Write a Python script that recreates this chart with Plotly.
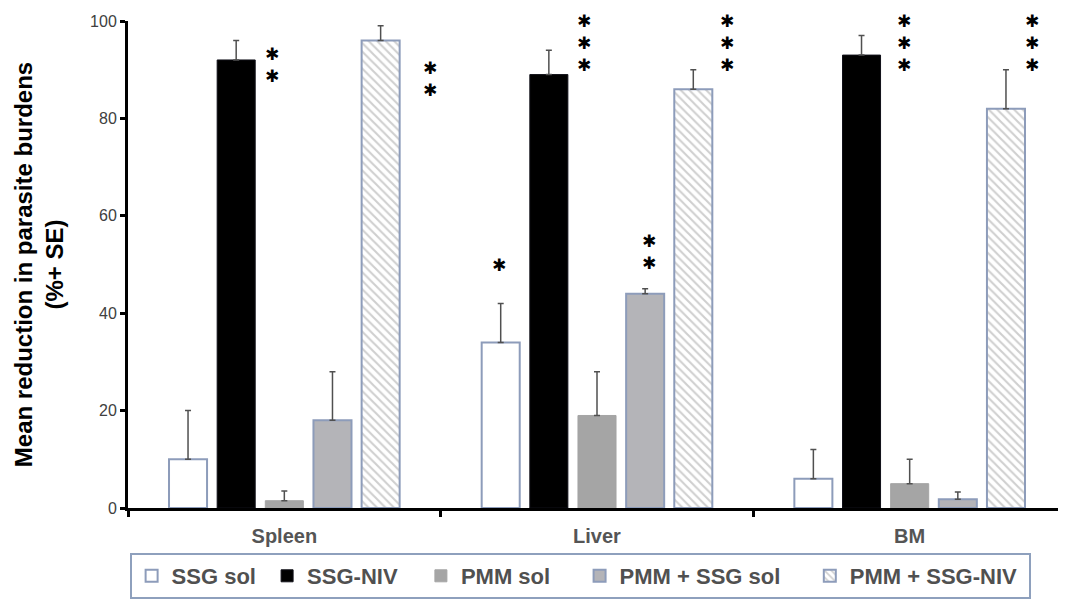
import plotly.graph_objects as go

categories = ["Spleen", "Liver", "BM"]
series_names = ["SSG sol", "SSG-NIV", "PMM sol", "PMM + SSG sol", "PMM + SSG-NIV"]
ssg_sol = [10, 34, 6]
ssg_sol_se = [10, 8, 6]
ssg_niv = [92, 89, 93]
ssg_niv_se = [4, 5, 4]
pmm_sol = [1.5, 19, 5]
pmm_sol_se = [2, 9, 5]
pmm_ssg_sol = [18, 44, 1.8]
pmm_ssg_sol_se = [10, 1, 1.5]
pmm_ssg_niv = [96, 86, 82]
pmm_ssg_niv_se = [3, 4, 8]

# significance marks: (category, number of stars, y-center of the mark, x offset px)
sig_marks = [
    ("Spleen", 2, 91, -12),
    ("Spleen", 2, 88, 146),
    ("Liver", 1, 50, -98),
    ("Liver", 3, 95.4, -13),
    ("Liver", 2, 52.6, 52),
    ("Liver", 3, 95.4, 130),
    ("BM", 3, 95.4, -6),
    ("BM", 3, 95.4, 122),
]

values = [ssg_sol, ssg_niv, pmm_sol, pmm_ssg_sol, pmm_ssg_niv]
errors = [ssg_sol_se, ssg_niv_se, pmm_sol_se, pmm_ssg_sol_se, pmm_ssg_niv_se]
legend_pad = [1, 3, 4, 4, 1]  # trailing non-breaking spaces for legend spacing

outline = "#8d9cba"
styles = [
    dict(color="white", line=dict(color=outline, width=2)),
    dict(color="black", line=dict(color="#101018", width=1)),
    dict(color="#a5a5a5", line=dict(color="#a5a5a5", width=1)),
    dict(color="#b4b4b8", line=dict(color=outline, width=2)),
    dict(color="white", line=dict(color=outline, width=2),
         pattern=dict(shape="\\", fgcolor="#a0a0a0", bgcolor="white", size=6, solidity=0.35)),
]

fig = go.Figure()
for name, v, e, st, pad in zip(series_names, values, errors, styles, legend_pad):
    fig.add_trace(go.Bar(
        name=name + "\u00a0" * pad, x=categories, y=v, marker=st,
        error_y=dict(type="data", symmetric=False, array=e, arrayminus=[0] * len(e),
                     color="#505050", thickness=1.5, width=3),
    ))

annotations = []
for cat, n, yc, xs in sig_marks:
    annotations.append(dict(
        x=cat, y=yc, xref="x", yref="y", text="<br>".join(["\u2731"] * n), showarrow=False,
        xshift=xs, yshift=0, font=dict(family="DejaVu Sans", size=17, color="black"),
        xanchor="center", yanchor="middle",
    ))

# page body adds an 8px offset, so the figure is sized to the remaining window
fig.update_layout(
    width=1058, height=591,
    margin=dict(l=120, r=0, t=13, b=91),
    paper_bgcolor="white", plot_bgcolor="white",
    barmode="group", bargap=0.23, bargroupgap=0.21,
    font=dict(family="Liberation Sans", color="#404040"),
    legend=dict(
        orientation="h", x=0.482, xanchor="center", y=-0.0924, yanchor="top",
        bordercolor="#8ea0bd", borderwidth=2,
        font=dict(family="Liberation Sans", size=22, color="#505050", weight="bold"),
        itemwidth=30, traceorder="normal",
    ),
    annotations=annotations,
    showlegend=True,
)
fig.update_yaxes(
    range=[0, 100], tickvals=[0, 20, 40, 60, 80, 100],
    showline=True, linecolor="black", linewidth=3,
    ticks="outside", ticklen=5, tickwidth=3, tickcolor="black",
    showgrid=False, zeroline=False,
    tickfont=dict(size=16, color="#404040"),
    title=dict(text="<b>Mean reduction in parasite burdens<br>(%+ SE)</b>",
               font=dict(size=24, color="black"), standoff=20),
)
fig.update_xaxes(
    showline=True, linecolor="black", linewidth=3,
    ticks="outside", ticklen=6, tickwidth=3, tickcolor="black", tickson="boundaries",
    tickfont=dict(size=20, color="#555555", weight="bold"), ticklabelstandoff=8,
    showgrid=False,
)

fig.write_html("out.html")
